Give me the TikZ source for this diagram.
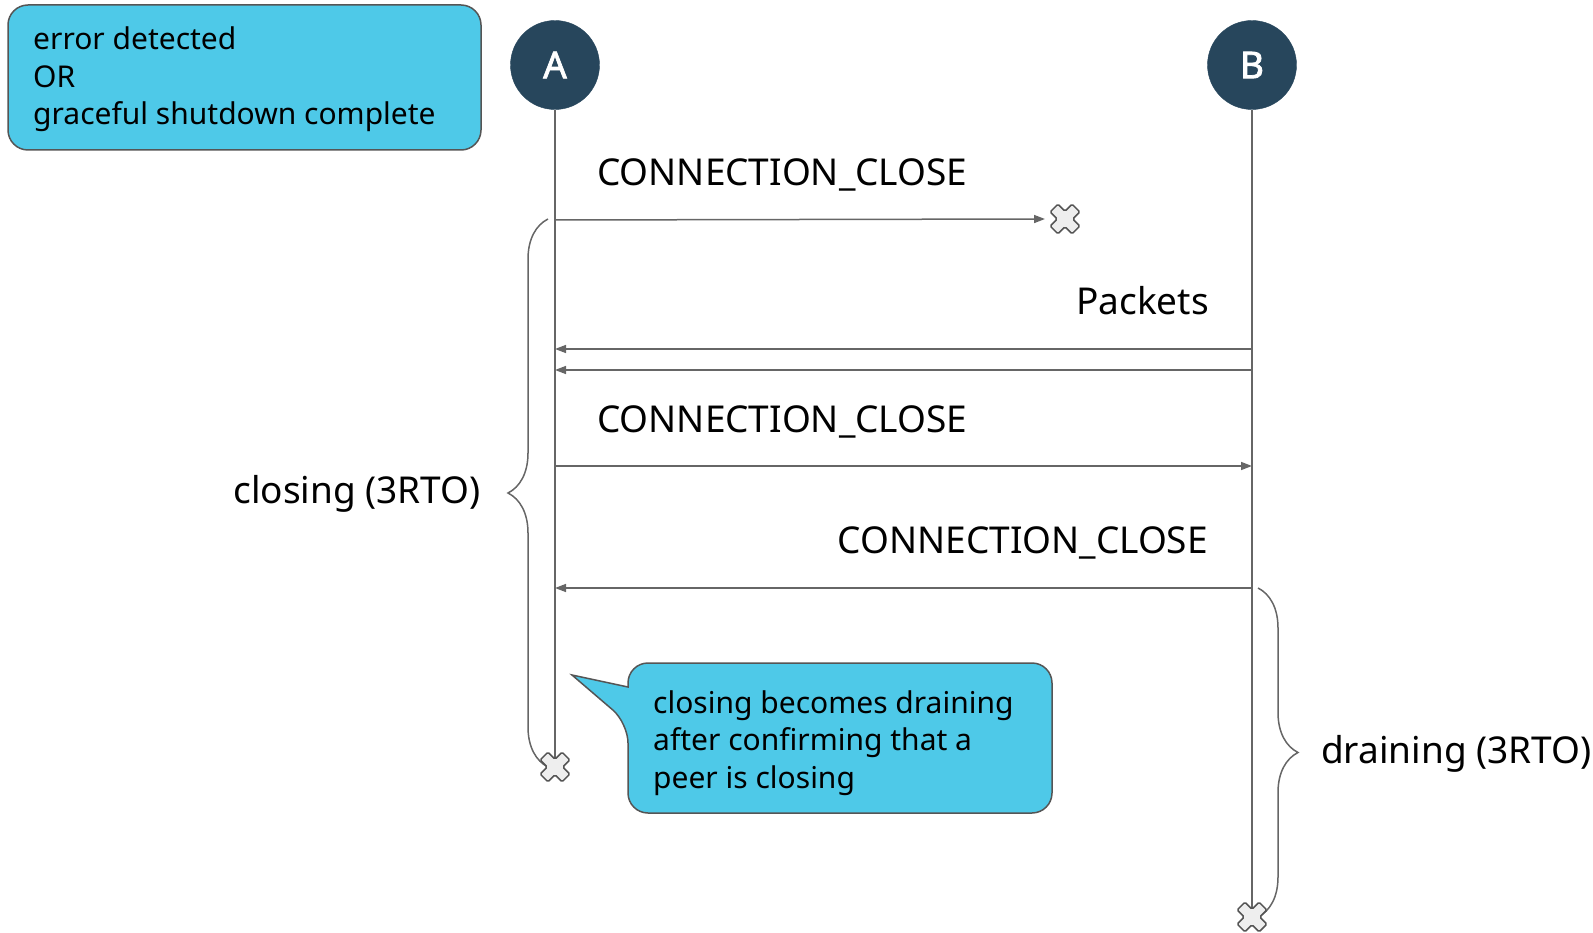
\documentclass[tikz,border=0pt]{standalone}
\usepackage{fontspec}
\setmainfont{Noto Sans}
\newfontfamily\peerfont[FakeBold=2]{Noto Sans}
\usetikzlibrary{arrows.meta,decorations.pathreplacing}

\definecolor{boxblue}{RGB}{78,201,232}
\definecolor{peerblue}{RGB}{39,70,92}
\definecolor{linegray}{RGB}{102,102,102}
\definecolor{edgegray}{RGB}{85,85,85}
\definecolor{markfill}{RGB}{238,238,238}

\tikzset{
  peer/.style={shape=circle, draw=peerblue, fill=peerblue, minimum size=89pt, inner sep=0pt,
    text=white, font=\peerfont\fontsize{37}{37}\selectfont},
  lifeline/.style={draw=linegray, line width=1.5pt},
  msg/.style={draw=linegray, line width=1.5pt, -{Triangle[length=11pt,width=8pt]}},
  msglabel/.style={inner sep=0pt, font=\fontsize{37}{37}\selectfont},
  notetext/.style={inner sep=0pt, align=left, font=\fontsize{30}{37.5}\selectfont},
  notebox/.style={draw=edgegray, fill=boxblue, line width=1.5pt, rounded corners=20pt},
  bracket/.style={draw=linegray, line width=1.5pt, decorate, decoration={brace, amplitude=40pt}},
  endmark/.pic={
    \draw[fill=markfill, draw=edgegray, line width=1.5pt, rounded corners=1.5pt, rotate=45]
      (-5.5,-15.5) -- (5.5,-15.5) -- (5.5,-5.5) -- (15.5,-5.5) -- (15.5,5.5) -- (5.5,5.5)
      -- (5.5,15.5) -- (-5.5,15.5) -- (-5.5,5.5) -- (-15.5,5.5) -- (-15.5,-5.5) -- (-5.5,-5.5) -- cycle;
  }
}

\begin{document}
\begin{tikzpicture}[x=1pt, y=-1pt]
  \useasboundingbox (0,0) rectangle (1593,933);

  % trigger box
  \draw[notebox] (8,5) rectangle (481,150);
  \node[notetext, anchor=north west] (trigger) at (33,27)
    {error detected\\OR\\graceful shutdown complete};

  % peers and lifelines
  \path (555,65) node [peer] (A) {A}
        (1252,65) node [peer] (B) {B};
  \coordinate (A-end) at (555,767);
  \coordinate (B-end) at (1252,917);
  \draw[lifeline] (A) -- (A-end);
  \draw[lifeline] (B) -- (B-end);

  % message points
  \coordinate (a1) at (555,220);
  \coordinate (lost) at (1065,219);
  \coordinate (lost-in) at (1045,219);
  \coordinate (b2) at (1252,349);
  \coordinate (a2) at (555,349);
  \coordinate (b3) at (1252,370);
  \coordinate (a3) at (555,370);
  \coordinate (a4) at (555,466);
  \coordinate (b4) at (1252,466);
  \coordinate (b5) at (1252,588);
  \coordinate (a5) at (555,588);

  \draw[msg] (a1) -- (lost-in);
  \draw[msg] (b2) -- (a2);
  \draw[msg] (b3) -- (a3);
  \draw[msg] (a4) -- (b4);
  \draw[msg] (b5) -- (a5);

  \node[msglabel, anchor=base west] (cc1) at (597,186) {CONNECTION\_CLOSE};
  \node[msglabel, anchor=base east] (pkts) at (1209,315) {Packets};
  \node[msglabel, anchor=base west] (cc2) at (597,432) {CONNECTION\_CLOSE};
  \node[msglabel, anchor=base east] (cc3) at (1208,553) {CONNECTION\_CLOSE};

  % state braces
  \coordinate (close-top) at (548,219);
  \coordinate (close-bot) at (548,767);
  \coordinate (drain-top) at (1258,588);
  \coordinate (drain-bot) at (1258,917);
  \draw[bracket] (close-bot) -- (close-top);
  \draw[bracket] (drain-top) -- (drain-bot);
  \node[msglabel, anchor=base east] (closing) at (481,503) {closing (3RTO)};
  \node[msglabel, anchor=base west] (draining) at (1321,763) {draining (3RTO)};

  % callout
  \draw[notebox] (628,687) -- (628,663) -- (1052,663) -- (1052,813) -- (628,813)
    -- (628,723) [sharp corners] -- (572,675) -- cycle;
  \node[notetext, anchor=north west] (note) at (653,690)
    {closing becomes draining\\after confirming that a\\peer is closing};

  % end marks
  \path (lost) pic {endmark};
  \path (A-end) pic {endmark};
  \path (B-end) pic {endmark};
\end{tikzpicture}
\end{document}
